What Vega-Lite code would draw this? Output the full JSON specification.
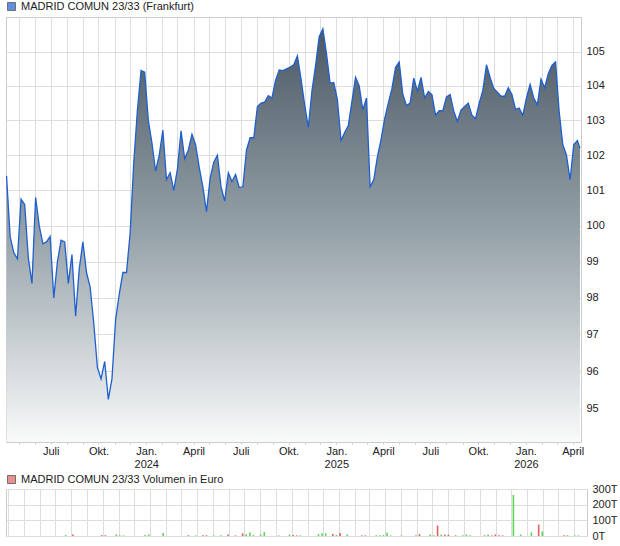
{
  "$schema": "https://vega.github.io/schema/vega-lite/v6.json",
  "padding": {"left": 3, "top": 0, "right": 0, "bottom": 0},
  "background": "white",
  "spacing": 3,
  "config": {
    "font": "Liberation Sans",
    "view": {"stroke": "#cccccc"},
    "axis": {"labelFont": "Liberation Sans", "labelFontSize": 11, "labelColor": "#222222", "gridColor": "#dddddd", "domainColor": "#cccccc", "tickColor": "#cccccc", "title": null},
    "legend": {"labelFont": "Liberation Sans", "labelFontSize": 11, "labelColor": "#222222", "labelLimit": 0}
  },
  "resolve": {"scale": {"x": "independent", "y": "independent", "fill": "independent", "color": "independent"}, "legend": {"fill": "independent"}},
  "datasets": {
    "price": [
      {"d": "2023-04-07", "v": 101.41}, {"d": "2023-04-14", "v": 99.7}, {"d": "2023-04-21", "v": 99.25}, {"d": "2023-04-28", "v": 99.08},
      {"d": "2023-05-05", "v": 100.75}, {"d": "2023-05-12", "v": 100.6}, {"d": "2023-05-19", "v": 99.1}, {"d": "2023-05-26", "v": 98.4},
      {"d": "2023-06-02", "v": 100.8}, {"d": "2023-06-09", "v": 100.0}, {"d": "2023-06-16", "v": 99.5}, {"d": "2023-06-23", "v": 99.55}, {"d": "2023-06-30", "v": 99.7},
      {"d": "2023-07-07", "v": 98.0}, {"d": "2023-07-14", "v": 99.0}, {"d": "2023-07-21", "v": 99.6}, {"d": "2023-07-28", "v": 99.55},
      {"d": "2023-08-04", "v": 98.4}, {"d": "2023-08-11", "v": 99.2}, {"d": "2023-08-18", "v": 97.5}, {"d": "2023-08-25", "v": 98.8},
      {"d": "2023-09-01", "v": 99.55}, {"d": "2023-09-08", "v": 98.7}, {"d": "2023-09-15", "v": 98.3}, {"d": "2023-09-22", "v": 97.3}, {"d": "2023-09-29", "v": 96.1},
      {"d": "2023-10-06", "v": 95.8}, {"d": "2023-10-13", "v": 96.27}, {"d": "2023-10-20", "v": 95.25}, {"d": "2023-10-27", "v": 95.8},
      {"d": "2023-11-03", "v": 97.4}, {"d": "2023-11-10", "v": 98.1}, {"d": "2023-11-17", "v": 98.7}, {"d": "2023-11-24", "v": 98.7},
      {"d": "2023-12-01", "v": 99.8}, {"d": "2023-12-08", "v": 101.8}, {"d": "2023-12-15", "v": 103.3}, {"d": "2023-12-22", "v": 104.45}, {"d": "2023-12-29", "v": 104.4},
      {"d": "2024-01-05", "v": 103.0}, {"d": "2024-01-12", "v": 102.35}, {"d": "2024-01-19", "v": 101.55}, {"d": "2024-01-26", "v": 102.0},
      {"d": "2024-02-02", "v": 102.72}, {"d": "2024-02-09", "v": 101.3}, {"d": "2024-02-16", "v": 101.5}, {"d": "2024-02-23", "v": 101.0},
      {"d": "2024-03-01", "v": 101.6}, {"d": "2024-03-08", "v": 102.7}, {"d": "2024-03-15", "v": 101.9}, {"d": "2024-03-22", "v": 102.15}, {"d": "2024-03-29", "v": 102.6},
      {"d": "2024-04-05", "v": 102.3}, {"d": "2024-04-12", "v": 101.65}, {"d": "2024-04-19", "v": 101.1}, {"d": "2024-04-26", "v": 100.4},
      {"d": "2024-05-03", "v": 101.35}, {"d": "2024-05-10", "v": 101.8}, {"d": "2024-05-17", "v": 102.0}, {"d": "2024-05-24", "v": 101.1}, {"d": "2024-05-31", "v": 100.7},
      {"d": "2024-06-07", "v": 101.5}, {"d": "2024-06-14", "v": 101.25}, {"d": "2024-06-21", "v": 101.45}, {"d": "2024-06-28", "v": 101.08},
      {"d": "2024-07-05", "v": 101.1}, {"d": "2024-07-12", "v": 102.15}, {"d": "2024-07-19", "v": 102.5}, {"d": "2024-07-26", "v": 102.5},
      {"d": "2024-08-02", "v": 103.4}, {"d": "2024-08-09", "v": 103.5}, {"d": "2024-08-16", "v": 103.53}, {"d": "2024-08-23", "v": 103.72}, {"d": "2024-08-30", "v": 103.65},
      {"d": "2024-09-06", "v": 104.16}, {"d": "2024-09-13", "v": 104.47}, {"d": "2024-09-20", "v": 104.45}, {"d": "2024-09-27", "v": 104.5},
      {"d": "2024-10-04", "v": 104.55}, {"d": "2024-10-11", "v": 104.62}, {"d": "2024-10-18", "v": 104.88}, {"d": "2024-10-25", "v": 104.2},
      {"d": "2024-11-01", "v": 103.45}, {"d": "2024-11-08", "v": 102.8}, {"d": "2024-11-15", "v": 103.85}, {"d": "2024-11-22", "v": 104.6}, {"d": "2024-11-29", "v": 105.45},
      {"d": "2024-12-06", "v": 105.68}, {"d": "2024-12-13", "v": 104.95}, {"d": "2024-12-20", "v": 104.08}, {"d": "2024-12-27", "v": 104.1},
      {"d": "2025-01-03", "v": 103.6}, {"d": "2025-01-10", "v": 102.42}, {"d": "2025-01-17", "v": 102.65}, {"d": "2025-01-24", "v": 102.85}, {"d": "2025-01-31", "v": 103.55},
      {"d": "2025-02-07", "v": 104.25}, {"d": "2025-02-14", "v": 104.0}, {"d": "2025-02-21", "v": 103.3}, {"d": "2025-02-28", "v": 103.65},
      {"d": "2025-03-07", "v": 101.1}, {"d": "2025-03-14", "v": 101.3}, {"d": "2025-03-21", "v": 101.95}, {"d": "2025-03-28", "v": 102.45},
      {"d": "2025-04-04", "v": 103.05}, {"d": "2025-04-11", "v": 103.5}, {"d": "2025-04-18", "v": 103.92}, {"d": "2025-04-25", "v": 104.55},
      {"d": "2025-05-02", "v": 104.7}, {"d": "2025-05-09", "v": 103.75}, {"d": "2025-05-16", "v": 103.43}, {"d": "2025-05-23", "v": 103.5}, {"d": "2025-05-30", "v": 104.23},
      {"d": "2025-06-06", "v": 103.85}, {"d": "2025-06-13", "v": 104.25}, {"d": "2025-06-20", "v": 103.65}, {"d": "2025-06-27", "v": 103.84},
      {"d": "2025-07-04", "v": 103.75}, {"d": "2025-07-11", "v": 103.15}, {"d": "2025-07-18", "v": 103.28}, {"d": "2025-07-25", "v": 103.28},
      {"d": "2025-08-01", "v": 103.68}, {"d": "2025-08-08", "v": 103.75}, {"d": "2025-08-15", "v": 103.27}, {"d": "2025-08-22", "v": 102.97}, {"d": "2025-08-29", "v": 103.3},
      {"d": "2025-09-05", "v": 103.4}, {"d": "2025-09-12", "v": 103.5}, {"d": "2025-09-19", "v": 103.15}, {"d": "2025-09-26", "v": 103.05},
      {"d": "2025-10-03", "v": 103.5}, {"d": "2025-10-10", "v": 103.87}, {"d": "2025-10-17", "v": 104.62}, {"d": "2025-10-24", "v": 104.25}, {"d": "2025-10-31", "v": 103.93},
      {"d": "2025-11-07", "v": 103.82}, {"d": "2025-11-14", "v": 103.7}, {"d": "2025-11-21", "v": 103.7}, {"d": "2025-11-28", "v": 103.95},
      {"d": "2025-12-05", "v": 103.75}, {"d": "2025-12-12", "v": 103.32}, {"d": "2025-12-19", "v": 103.36}, {"d": "2025-12-26", "v": 103.15},
      {"d": "2026-01-02", "v": 103.65}, {"d": "2026-01-09", "v": 104.05}, {"d": "2026-01-16", "v": 103.65}, {"d": "2026-01-23", "v": 103.45}, {"d": "2026-01-30", "v": 104.2},
      {"d": "2026-02-06", "v": 103.95}, {"d": "2026-02-13", "v": 104.36}, {"d": "2026-02-20", "v": 104.6}, {"d": "2026-02-27", "v": 104.7},
      {"d": "2026-03-06", "v": 103.25}, {"d": "2026-03-13", "v": 102.3}, {"d": "2026-03-20", "v": 102.0}, {"d": "2026-03-27", "v": 101.3},
      {"d": "2026-04-03", "v": 102.3}, {"d": "2026-04-10", "v": 102.42}, {"d": "2026-04-15", "v": 102.2}
    ],
    "vol": [
      {"d": "2023-07-21", "dir": "up", "v": 6}, {"d": "2023-08-04", "dir": "down", "v": 10}, {"d": "2023-09-29", "dir": "down", "v": 6}, {"d": "2023-10-06", "dir": "down", "v": 5},
      {"d": "2023-10-27", "dir": "up", "v": 10}, {"d": "2023-11-03", "dir": "up", "v": 4}, {"d": "2023-11-10", "dir": "up", "v": 4}, {"d": "2023-12-22", "dir": "up", "v": 6},
      {"d": "2023-12-29", "dir": "up", "v": 10}, {"d": "2024-01-26", "dir": "up", "v": 19}, {"d": "2024-03-15", "dir": "down", "v": 5}, {"d": "2024-03-29", "dir": "up", "v": 4},
      {"d": "2024-04-12", "dir": "down", "v": 5}, {"d": "2024-04-19", "dir": "down", "v": 5}, {"d": "2024-05-03", "dir": "up", "v": 4}, {"d": "2024-05-17", "dir": "up", "v": 4},
      {"d": "2024-05-31", "dir": "down", "v": 10}, {"d": "2024-06-14", "dir": "down", "v": 4}, {"d": "2024-06-28", "dir": "down", "v": 17}, {"d": "2024-07-05", "dir": "up", "v": 12},
      {"d": "2024-07-12", "dir": "up", "v": 23}, {"d": "2024-07-19", "dir": "up", "v": 6}, {"d": "2024-08-02", "dir": "up", "v": 10}, {"d": "2024-08-09", "dir": "up", "v": 25},
      {"d": "2024-09-06", "dir": "up", "v": 4}, {"d": "2024-09-27", "dir": "up", "v": 10}, {"d": "2024-10-04", "dir": "down", "v": 6}, {"d": "2024-10-11", "dir": "down", "v": 4},
      {"d": "2024-10-18", "dir": "up", "v": 4}, {"d": "2024-11-22", "dir": "up", "v": 12}, {"d": "2024-11-29", "dir": "up", "v": 17}, {"d": "2024-12-06", "dir": "up", "v": 17},
      {"d": "2024-12-20", "dir": "down", "v": 12}, {"d": "2024-12-27", "dir": "up", "v": 6}, {"d": "2025-01-03", "dir": "down", "v": 19}, {"d": "2025-01-17", "dir": "up", "v": 10},
      {"d": "2025-02-14", "dir": "down", "v": 4}, {"d": "2025-02-21", "dir": "down", "v": 4}, {"d": "2025-03-14", "dir": "up", "v": 4}, {"d": "2025-03-21", "dir": "up", "v": 4},
      {"d": "2025-03-28", "dir": "up", "v": 6}, {"d": "2025-04-04", "dir": "up", "v": 23}, {"d": "2025-04-11", "dir": "up", "v": 4}, {"d": "2025-05-02", "dir": "up", "v": 4},
      {"d": "2025-05-30", "dir": "up", "v": 4}, {"d": "2025-06-06", "dir": "down", "v": 12}, {"d": "2025-06-27", "dir": "up", "v": 10}, {"d": "2025-07-04", "dir": "up", "v": 4},
      {"d": "2025-07-11", "dir": "down", "v": 67}, {"d": "2025-07-18", "dir": "up", "v": 10}, {"d": "2025-07-25", "dir": "down", "v": 8}, {"d": "2025-08-01", "dir": "down", "v": 8},
      {"d": "2025-08-15", "dir": "down", "v": 4}, {"d": "2025-08-29", "dir": "up", "v": 4}, {"d": "2025-09-05", "dir": "up", "v": 10}, {"d": "2025-09-12", "dir": "up", "v": 4},
      {"d": "2025-10-10", "dir": "down", "v": 4}, {"d": "2025-10-17", "dir": "up", "v": 10}, {"d": "2025-10-24", "dir": "down", "v": 4}, {"d": "2025-10-31", "dir": "down", "v": 10},
      {"d": "2025-11-07", "dir": "down", "v": 4}, {"d": "2025-11-14", "dir": "down", "v": 4}, {"d": "2025-12-05", "dir": "up", "v": 262}, {"d": "2025-12-19", "dir": "up", "v": 10},
      {"d": "2026-01-09", "dir": "up", "v": 23}, {"d": "2026-01-23", "dir": "down", "v": 73}, {"d": "2026-01-30", "dir": "up", "v": 29}, {"d": "2026-03-13", "dir": "down", "v": 4},
      {"d": "2026-03-20", "dir": "down", "v": 4}, {"d": "2026-04-03", "dir": "up", "v": 4}, {"d": "2026-04-10", "dir": "up", "v": 4}
    ]
  },
  "vconcat": [
    {
      "width": 575,
      "height": 425,
      "data": {"name": "price"},
      "encoding": {
        "x": {
          "field": "d", "type": "temporal",
          "scale": {"type": "utc", "domain": [{"year": 2023, "month": 4, "date": 6, "utc": true}, {"year": 2026, "month": 4, "date": 17, "utc": true}], "nice": false},
          "axis": {
            "tickCount": {"interval": "month", "step": 1},
            "labelExpr": "utcmonth(datum.value) == 0 ? ['Jan.', utcFormat(datum.value, '%Y')] : utcmonth(datum.value) == 3 ? 'April' : utcmonth(datum.value) == 6 ? 'Juli' : utcmonth(datum.value) == 9 ? 'Okt.' : ''",
            "labelOverlap": false, "labelFlush": false, "grid": true, "tickSize": 2, "domain": false,
            "labelPadding": 1, "labelLineHeight": 13, "labelBaseline": "top", "labelAlign": "center"
          }
        }
      },
      "layer": [
        {
          "mark": {"type": "area", "color": {"gradient": "linear", "x1": 0, "y1": 0, "x2": 0, "y2": 1, "stops": [{"offset": 0, "color": "#4b5964"}, {"offset": 0.5, "color": "#97a3aa"}, {"offset": 1, "color": "#f9fafa"}]}},
          "encoding": {
            "y": {"field": "v", "type": "quantitative", "scale": {"type": "log", "domain": [94.12, 106.03], "nice": false, "zero": false},
              "axis": {"orient": "right", "values": [95, 96, 97, 98, 99, 100, 101, 102, 103, 104, 105], "grid": true, "ticks": false, "domain": false, "labelPadding": 5, "format": "d"}},
            "y2": {"datum": 94.12}
          }
        },
        {
          "mark": {"type": "line", "color": "#1f5fcf", "strokeWidth": 1.3},
          "encoding": {"y": {"field": "v", "type": "quantitative"}}
        },
        {
          "data": {"values": []},
          "mark": {"type": "square"},
          "encoding": {
            "fill": {"datum": "MADRID COMUN 23/33 (Frankfurt)", "scale": {"range": ["#1f5fcf"]},
              "legend": {"orient": "none", "legendX": 0, "legendY": -16, "title": null, "symbolType": "square", "symbolSize": 64, "symbolStrokeColor": "#333333", "symbolStrokeWidth": 1, "labelOffset": 4, "padding": 0, "labelLimit": 0}}
          }
        },
        {
          "mark": {"type": "text", "align": "left", "baseline": "middle", "fontSize": 11, "color": "#b0b0b0", "text": "1 Tick = 1 Woche"},
          "data": {"values": [{}]},
          "encoding": {
            "x": {"datum": {"year": 2023, "month": 4, "date": 16, "utc": true}, "type": "temporal"},
            "y": {"datum": 94.27, "type": "quantitative"}
          }
        }
      ]
    },
    {
      "width": 581,
      "height": 47,
      "data": {"name": "vol"},
      "layer": [
        {
          "mark": {"type": "bar", "width": 1.6},
          "encoding": {
            "x": {
              "field": "d", "type": "temporal",
              "scale": {"type": "utc", "domain": [{"year": 2023, "month": 4, "date": 6, "utc": true}, {"year": 2026, "month": 4, "date": 17, "utc": true}], "nice": false},
              "axis": {"tickCount": {"interval": "month", "step": 1}, "labels": false, "ticks": false, "domain": false, "grid": true}
            },
            "y": {"field": "v", "type": "quantitative", "scale": {"domain": [0, 300], "nice": false},
              "axis": {"orient": "right", "values": [0, 100, 200, 300], "labelExpr": "datum.value + 'T'", "grid": true, "ticks": false, "domain": false, "labelPadding": 5}},
            "color": {"field": "dir", "type": "nominal", "scale": {"domain": ["up", "down"], "range": ["#5dd55d", "#e0605d"]}, "legend": null}
          }
        },
        {
          "data": {"values": []},
          "mark": {"type": "square"},
          "encoding": {
            "fill": {"datum": "MADRID COMUN 23/33 Volumen in Euro", "scale": {"range": ["#e0605d"]},
              "legend": {"orient": "none", "legendX": 0, "legendY": -15, "title": null, "symbolType": "square", "symbolSize": 64, "symbolStrokeColor": "#333333", "symbolStrokeWidth": 1, "labelOffset": 4, "padding": 0, "labelLimit": 0}}
          }
        }
      ]
    }
  ]
}
